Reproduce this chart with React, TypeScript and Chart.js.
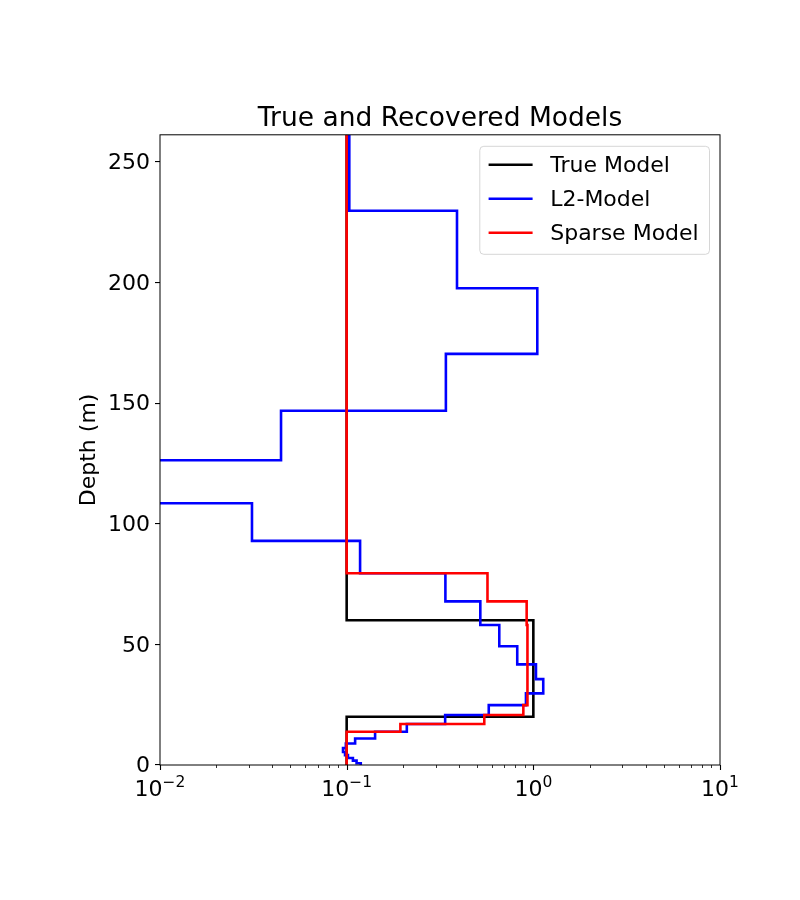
import React, { useEffect, useRef } from 'react';
import { Chart, registerables } from 'chart.js';

Chart.register(...registerables);

// ---- data ----
const chartTitle = 'True and Recovered Models';
const yAxisTitle = 'Depth (m)';
const seriesLabels = ['True Model', 'L2-Model', 'Sparse Model'];
const seriesColors = ['#000000', '#0000ff', '#ff0000'];

// layer boundaries of the inversion mesh (depth, m)
const meshDepths = [0, 0.7, 1.8, 2.9, 4.1, 5.4, 7.0, 8.9, 11.0, 13.8, 17.0, 20.7, 24.8, 29.7, 35.6, 41.7, 49.2, 58.0, 67.8, 79.5, 92.9, 108.5, 126.3, 146.8, 170.4, 197.6, 229.7, 261.2];

// L2 model value per layer
const l2Values = [0.119, 0.113, 0.108, 0.1016, 0.098, 0.0956, 0.099, 0.111, 0.142, 0.21, 0.337, 0.577, 0.913, 1.13, 1.033, 0.82, 0.657, 0.52, 0.338, 0.118, 0.0311, 0.005, 0.0445, 0.34, 1.05, 0.39, 0.1033];

// Sparse model value per layer
const sparseValues = [0.1, 0.1, 0.1, 0.1, 0.1, 0.1, 0.1, 0.1, 0.1, 0.194, 0.546, 0.884, 0.93, 0.93, 0.93, 0.93, 0.93, 0.921, 0.568, 0.1, 0.1, 0.1, 0.1, 0.1, 0.1, 0.1, 0.1];

// True model
const trueDepths = [0, 20, 60, 261.2];
const trueValues = [0.1, 1.0, 0.1];

// axes
const xMin = 0.01;
const xMax = 10;
const xTickValues = [0.01, 0.1, 1, 10];
const xTickExponents = ['\u22122', '\u22121', '0', '1'];
const yMin = 0;
const yMax = 261.2;
const yTickValues = [0, 50, 100, 150, 200, 250];

function stepPoints(depths: number[], values: number[]) {
  const pts: { x: number; y: number }[] = [];
  values.forEach((v, i) => {
    pts.push({ x: v, y: depths[i] });
    pts.push({ x: v, y: depths[i + 1] });
  });
  return pts;
}

const FONT = "'DejaVu Sans', sans-serif";
const LINE_W = 2.6;

const decorPlugin = {
  id: 'decor',
  afterDraw(chart: any) {
    const { ctx, chartArea: a, scales } = chart;
    const xs = scales.x;
    ctx.save();

    // frame (all four spines)
    ctx.strokeStyle = '#000';
    ctx.lineWidth = 1;
    ctx.strokeRect(a.left, a.top, a.right - a.left, a.bottom - a.top);

    // x ticks: major and minor (log)
    const eMin = Math.round(Math.log10(xMin));
    const eMax = Math.round(Math.log10(xMax));
    for (let e = eMin; e <= eMax; e++) {
      for (let k = 1; k <= 9; k++) {
        const v = k * Math.pow(10, e);
        if (v > xMax * 1.0001) break;
        const px = Math.round(xs.getPixelForValue(v)) + 0.5;
        const major = k === 1;
        ctx.beginPath();
        ctx.lineWidth = major ? 1.1 : 0.8;
        ctx.moveTo(px, a.bottom);
        ctx.lineTo(px, a.bottom + (major ? 5 : 3));
        ctx.stroke();
      }
    }

    // x tick labels: 10^n
    ctx.fillStyle = '#000';
    ctx.textBaseline = 'alphabetic';
    ctx.textAlign = 'left';
    const base = a.bottom + 31;
    xTickValues.forEach((v, i) => {
      const px = xs.getPixelForValue(v);
      ctx.font = `22px ${FONT}`;
      const w1 = ctx.measureText('10').width;
      ctx.font = `15.5px ${FONT}`;
      const w2 = ctx.measureText(xTickExponents[i]).width;
      const start = px - (w1 + w2) / 2;
      ctx.font = `22px ${FONT}`;
      ctx.fillText('10', start, base);
      ctx.font = `15.5px ${FONT}`;
      ctx.fillText(xTickExponents[i], start + w1, base - 9);
    });

    // legend (upper right, inside axes)
    const fs = 22;
    ctx.font = `${fs}px ${FONT}`;
    const ds = chart.data.datasets;
    let maxW = 0;
    ds.forEach((d: any) => { maxW = Math.max(maxW, ctx.measureText(d.label).width); });
    const pad = 0.4 * fs;
    const handle = 2 * fs;
    const textPad = 0.8 * fs;
    const boxW = pad + handle + textPad + maxW + pad + 2;
    const rowH = 34;
    const boxH = 2 * 18.5 + rowH * (ds.length - 1) + 3;
    const boxR = a.right - 10.5;
    const boxL = boxR - boxW;
    const boxT = a.top + 11.5;
    ctx.beginPath();
    if ((ctx as any).roundRect) {
      (ctx as any).roundRect(boxL, boxT, boxW, boxH, 4);
    } else {
      ctx.rect(boxL, boxT, boxW, boxH);
    }
    ctx.fillStyle = 'rgba(255,255,255,0.8)';
    ctx.fill();
    ctx.strokeStyle = 'rgba(204,204,204,0.8)';
    ctx.lineWidth = 1;
    ctx.stroke();
    ds.forEach((d: any, i: number) => {
      const y = boxT + 18.5 + rowH * i;
      ctx.beginPath();
      ctx.strokeStyle = d.borderColor;
      ctx.lineWidth = LINE_W;
      ctx.moveTo(boxL + pad, y);
      ctx.lineTo(boxL + pad + handle, y);
      ctx.stroke();
      ctx.fillStyle = '#000';
      ctx.textBaseline = 'middle';
      ctx.fillText(d.label, boxL + pad + handle + textPad, y + 1);
    });

    ctx.restore();
  },
};

export default function App() {
  const ref = useRef<HTMLCanvasElement>(null);
  useEffect(() => {
    const canvas = ref.current;
    if (!canvas) return;
    Chart.defaults.font.family = FONT;
    Chart.defaults.color = '#000';
    const seriesData = [
      stepPoints(trueDepths, trueValues),
      stepPoints(meshDepths, l2Values),
      stepPoints(meshDepths, sparseValues),
    ];
    const chart = new Chart(canvas, {
      type: 'line',
      data: {
        datasets: seriesLabels.map((label, i) => ({
          label,
          data: seriesData[i],
          borderColor: seriesColors[i],
          backgroundColor: seriesColors[i],
          borderWidth: LINE_W,
          pointRadius: 0,
          fill: false,
          tension: 0,
          borderJoinStyle: 'miter' as const,
          order: seriesLabels.length - i,
        })),
      },
      options: {
        responsive: false,
        animation: false,
        devicePixelRatio: 1,
        layout: { padding: { top: 101, right: 80, bottom: 0, left: 0 } },
        plugins: {
          legend: { display: false },
          tooltip: { enabled: false },
          title: {
            display: true,
            text: chartTitle,
            fullSize: false,
            color: '#000',
            font: { size: 26.5, weight: 'normal', family: FONT },
            padding: { top: 2, bottom: 0 },
          },
        },
        scales: {
          x: {
            type: 'logarithmic',
            min: xMin,
            max: xMax,
            position: 'bottom',
            grid: { display: false },
            border: { display: false },
            ticks: { display: false },
            afterFit: (s: any) => { s.height = 135; },
          },
          y: {
            type: 'linear',
            min: yMin,
            max: yMax,
            position: 'left',
            grid: { drawOnChartArea: false, drawTicks: true, tickLength: 5, color: '#000', lineWidth: 1.1 },
            border: { display: false },
            ticks: { padding: 5, labelOffset: 1.5, color: '#000', font: { size: 22, family: FONT } },
            afterBuildTicks: (s: any) => { s.ticks = yTickValues.map((v) => ({ value: v })); },
            title: {
              display: true,
              text: yAxisTitle,
              color: '#000',
              font: { size: 22, family: FONT },
              padding: { top: 76, bottom: 0 },
            },
            afterFit: (s: any) => { s.width = 160; },
          },
        },
      } as any,
      plugins: [decorPlugin],
    });
    return () => chart.destroy();
  }, []);
  return (
    <div style={{ position: 'absolute', left: 0, top: 0, width: 800, height: 900, background: '#fff' }}>
      <canvas ref={ref} width={800} height={900} style={{ display: 'block', width: 800, height: 900 }} />
    </div>
  );
}
